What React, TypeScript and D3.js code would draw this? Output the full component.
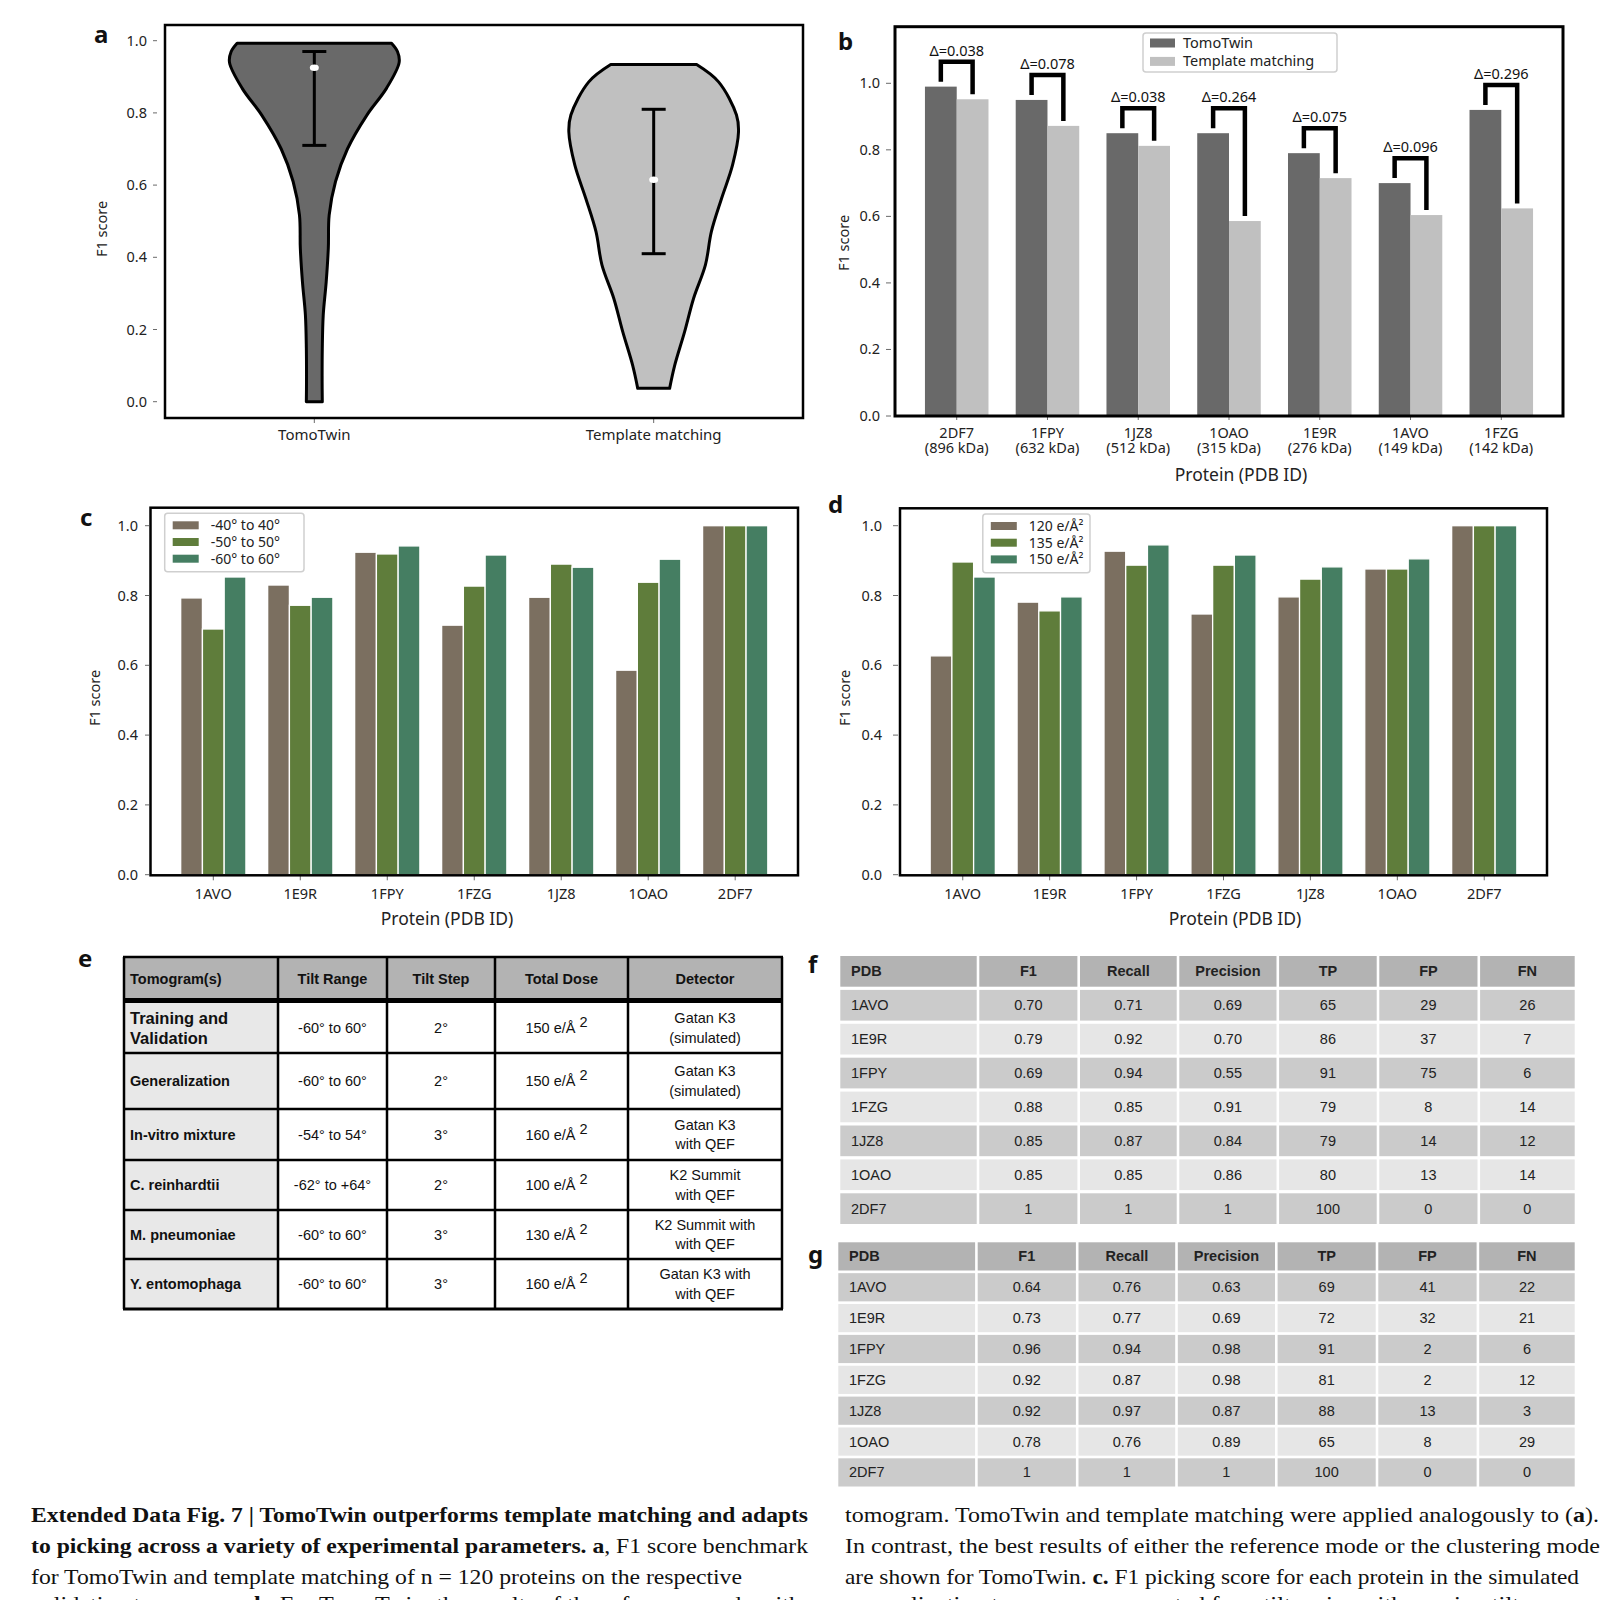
import React from 'react';
import * as d3 from 'd3';

// ---------- Panel a: violin data ----------
const violinGroups = ['TomoTwin', 'Template matching'];
const tomoTwinProfileValues = [0.0, 0.055, 0.148, 0.24, 0.332, 0.425, 0.517, 0.61, 0.70, 0.794, 0.868, 0.94, 0.97, 0.993];
const tomoTwinProfileWidths = [0.094, 0.092, 0.094, 0.105, 0.14, 0.165, 0.175, 0.25, 0.39, 0.62, 0.85, 1.0, 0.98, 0.91];
const templateProfileValues = [0.037, 0.10, 0.194, 0.286, 0.379, 0.471, 0.563, 0.656, 0.748, 0.794, 0.886, 0.934];
const templateProfileWidths = [0.188, 0.247, 0.365, 0.47, 0.61, 0.68, 0.80, 0.93, 1.0, 0.976, 0.765, 0.506];
const violinLow = [0.71, 0.41];
const violinHigh = [0.97, 0.81];
const violinMid = [0.925, 0.615];
const yTicks = [0, 0.2, 0.4, 0.6, 0.8, 1.0];

// ---------- Panel b ----------
const bProteins = ['2DF7', '1FPY', '1JZ8', '1OAO', '1E9R', '1AVO', '1FZG'];
const bMasses = ['(896 kDa)', '(632 kDa)', '(512 kDa)', '(315 kDa)', '(276 kDa)', '(149 kDa)', '(142 kDa)'];
const bTomoTwin = [0.99, 0.95, 0.85, 0.85, 0.79, 0.70, 0.92];
const bTemplate = [0.952, 0.872, 0.812, 0.586, 0.715, 0.604, 0.624];
const bDeltas = ['Δ=0.038', 'Δ=0.078', 'Δ=0.038', 'Δ=0.264', 'Δ=0.075', 'Δ=0.096', 'Δ=0.296'];
const bLegend = ['TomoTwin', 'Template matching'];

// ---------- Panels c, d ----------
const cdProteins = ['1AVO', '1E9R', '1FPY', '1FZG', '1JZ8', '1OAO', '2DF7'];
const cTilt40 = [0.793, 0.830, 0.924, 0.715, 0.795, 0.586, 1.0];
const cTilt50 = [0.704, 0.772, 0.919, 0.827, 0.890, 0.838, 1.0];
const cTilt60 = [0.853, 0.795, 0.942, 0.916, 0.881, 0.904, 1.0];
const cLegend = ['-40° to 40°', '-50° to 50°', '-60° to 60°'];
const dDose120 = [0.627, 0.781, 0.927, 0.747, 0.796, 0.876, 1.0];
const dDose135 = [0.896, 0.756, 0.887, 0.887, 0.847, 0.876, 1.0];
const dDose150 = [0.853, 0.796, 0.945, 0.916, 0.882, 0.905, 1.0];
const dLegend = ['120 e/Å²', '135 e/Å²', '150 e/Å²'];
const seriesColors = ['#7b6f60', '#5f7d3b', '#457e62'];

// ---------- Table e ----------
const eHeaders = ['Tomogram(s)', 'Tilt Range', 'Tilt Step', 'Total Dose', 'Detector'];
const eTomograms = [['Training and', 'Validation'], ['Generalization'], ['In-vitro mixture'], ['C. reinhardtii'], ['M. pneumoniae'], ['Y. entomophaga']];
const eTiltRange = ['-60° to 60°', '-60° to 60°', '-54° to 54°', '-62° to +64°', '-60° to 60°', '-60° to 60°'];
const eTiltStep = ['2°', '2°', '3°', '2°', '3°', '3°'];
const eDose = ['150 e/Å', '150 e/Å', '160 e/Å', '100 e/Å', '130 e/Å', '160 e/Å'];
const eDetector = [['Gatan K3', '(simulated)'], ['Gatan K3', '(simulated)'], ['Gatan K3', 'with QEF'], ['K2 Summit', 'with QEF'], ['K2 Summit with', 'with QEF'], ['Gatan K3 with', 'with QEF']];

// ---------- Tables f, g ----------
const fgHeaders = ['PDB', 'F1', 'Recall', 'Precision', 'TP', 'FP', 'FN'];
const fgPdb = ['1AVO', '1E9R', '1FPY', '1FZG', '1JZ8', '1OAO', '2DF7'];
const fF1 = ['0.70', '0.79', '0.69', '0.88', '0.85', '0.85', '1'];
const fRecall = ['0.71', '0.92', '0.94', '0.85', '0.87', '0.85', '1'];
const fPrecision = ['0.69', '0.70', '0.55', '0.91', '0.84', '0.86', '1'];
const fTP = ['65', '86', '91', '79', '79', '80', '100'];
const fFP = ['29', '37', '75', '8', '14', '13', '0'];
const fFN = ['26', '7', '6', '14', '12', '14', '0'];
const gF1 = ['0.64', '0.73', '0.96', '0.92', '0.92', '0.78', '1'];
const gRecall = ['0.76', '0.77', '0.94', '0.87', '0.97', '0.76', '1'];
const gPrecision = ['0.63', '0.69', '0.98', '0.98', '0.87', '0.89', '1'];
const gTP = ['69', '72', '91', '81', '88', '65', '100'];
const gFP = ['41', '32', '2', '2', '13', '8', '0'];
const gFN = ['22', '21', '6', '12', '3', '29', '0'];

const SANS = '"Noto Sans", "Open Sans", sans-serif';
const TABLE = '"Liberation Sans", Arial, sans-serif';
const SERIF = '"Liberation Serif", serif';

function PanelLabel({ x, y, t }: { x: number; y: number; t: string }) {
  return <text x={x} y={y} fontFamily={SANS} fontWeight={700} fontSize={24} fill="#111">{t}</text>;
}

function YAxis({ y, xLabelRight, tickX1, tickX2 }: { y: d3.ScaleLinear<number, number>; xLabelRight: number; tickX1: number; tickX2: number }) {
  return (
    <g>
      {yTicks.map((t) => (
        <g key={t}>
          <line x1={tickX1} x2={tickX2} y1={y(t)} y2={y(t)} stroke="#444" strokeWidth={0.8} />
          <text x={xLabelRight} y={y(t) + 5} textAnchor="end" fontFamily={SANS} fontSize={14.5} fill="#222">{d3.format('.1f')(t)}</text>
        </g>
      ))}
    </g>
  );
}

function PanelA() {
  const x = d3.scaleLinear().domain([-0.44, 1.44]).range([165, 803]);
  const y = d3.scaleLinear().domain([0, 1]).range([401.7, 40.7]);
  const maxHW = (x(0.25) - x(0));
  const profiles = [
    tomoTwinProfileValues.map((v, i) => [v, tomoTwinProfileWidths[i]] as [number, number]),
    templateProfileValues.map((v, i) => [v, templateProfileWidths[i]] as [number, number]),
  ];
  const fills = ['#696969', '#c0c0c0'];
  return (
    <g>
      <PanelLabel x={94} y={43} t="a" />
      {profiles.map((p, gi) => {
        const cx = x(gi);
        const area = d3.area<[number, number]>()
          .y((d) => y(d[0]))
          .x0((d) => cx - d[1] * maxHW)
          .x1((d) => cx + d[1] * maxHW)
          .curve(d3.curveCatmullRom.alpha(0.5));
        return <path key={gi} d={area(p) || ''} fill={fills[gi]} stroke="#000" strokeWidth={3} strokeLinejoin="round" />;
      })}
      {violinGroups.map((g, gi) => {
        const cx = x(gi);
        return (
          <g key={g}>
            <line x1={cx} x2={cx} y1={y(violinLow[gi])} y2={y(violinHigh[gi])} stroke="#000" strokeWidth={3} />
            <line x1={cx - 12} x2={cx + 12} y1={y(violinLow[gi])} y2={y(violinLow[gi])} stroke="#000" strokeWidth={3} />
            <line x1={cx - 12} x2={cx + 12} y1={y(violinHigh[gi])} y2={y(violinHigh[gi])} stroke="#000" strokeWidth={3} />
            <ellipse cx={cx} cy={y(violinMid[gi])} rx={4.5} ry={3.2} fill="#fff" />
            <line x1={cx} x2={cx} y1={419} y2={423} stroke="#444" strokeWidth={0.8} />
            <text x={cx} y={440} textAnchor="middle" fontFamily={SANS} fontSize={15} fill="#222">{g}</text>
          </g>
        );
      })}
      <rect x={165} y={25} width={638} height={393} fill="none" stroke="#000" strokeWidth={2.5} />
      <YAxis y={y} xLabelRight={147} tickX1={153} tickX2={157} />
      <text transform="translate(107,229) rotate(-90)" textAnchor="middle" fontFamily={SANS} fontSize={14.5} fill="#222">F1 score</text>
    </g>
  );
}

function PanelB() {
  const x = d3.scaleLinear().domain([-0.68, 6.68]).range([895, 1563]);
  const y = d3.scaleLinear().domain([0, 1]).range([416, 83.3]);
  const bw = 0.35;
  return (
    <g>
      <PanelLabel x={838} y={50} t="b" />
      {bProteins.map((p, i) => {
        const xL = x(i - bw / 2);
        const xR = x(i + bw / 2);
        const top = y(bTomoTwin[i] + 0.075);
        return (
          <g key={p}>
            <rect x={x(i - bw)} y={y(bTomoTwin[i])} width={x(i) - x(i - bw)} height={y(0) - y(bTomoTwin[i])} fill="#696969" />
            <rect x={x(i)} y={y(bTemplate[i])} width={x(i + bw) - x(i)} height={y(0) - y(bTemplate[i])} fill="#c0c0c0" />
            <path d={`M${xL},${y(bTomoTwin[i] + 0.015)} V${top} H${xR} V${y(bTemplate[i] + 0.015)}`} fill="none" stroke="#000" strokeWidth={4.5} />
            <text x={(xL + xR) / 2} y={top - 6} textAnchor="middle" fontFamily={SANS} fontSize={14.5} fill="#111">{bDeltas[i]}</text>
            <line x1={x(i)} x2={x(i)} y1={416} y2={420} stroke="#444" strokeWidth={0.8} />
            <text x={x(i)} y={438} textAnchor="middle" fontFamily={SANS} fontSize={14.5} fill="#222">{p}</text>
            <text x={x(i)} y={453} textAnchor="middle" fontFamily={SANS} fontSize={14.5} fill="#222">{bMasses[i]}</text>
          </g>
        );
      })}
      <rect x={895} y={26.7} width={668} height={389.3} fill="none" stroke="#000" strokeWidth={3} />
      <YAxis y={y} xLabelRight={880} tickX1={886} tickX2={891} />
      <text transform="translate(849,243) rotate(-90)" textAnchor="middle" fontFamily={SANS} fontSize={14.5} fill="#222">F1 score</text>
      <text x={1241} y={481} textAnchor="middle" fontFamily={SANS} fontSize={17.5} fill="#222">Protein (PDB ID)</text>
      <rect x={1143} y={33} width={194} height={39} rx={3} fill="#fff" fillOpacity={0.85} stroke="#cfcfcf" strokeWidth={1.5} />
      {bLegend.map((l, i) => (
        <g key={l}>
          <rect x={1150} y={38.5 + i * 18.4} width={25} height={9} fill={i === 0 ? '#696969' : '#c0c0c0'} />
          <text x={1183} y={48 + i * 18.4} fontFamily={SANS} fontSize={14.5} fill="#222">{l}</text>
        </g>
      ))}
    </g>
  );
}

function GroupedPanel({ label, lx, ly, left, right, top, series, legend, legendBox, yLabelX, tickLabelRight, tickX1, xTitleX }: any) {
  const x = d3.scaleLinear().domain([-0.722, 6.722]).range([left, right]);
  const y = d3.scaleLinear().domain([0, 1]).range([874.7, 525.7]);
  const bw = 0.25;
  const bottom = 875.3;
  return (
    <g>
      <PanelLabel x={lx} y={ly} t={label} />
      {cdProteins.map((p, i) => (
        <g key={p}>
          {series.map((s: number[], k: number) => {
            const c = i + (k - 1) * bw;
            return <rect key={k} x={x(c - bw / 2)} y={y(s[i])} width={x(c + bw / 2) - x(c - bw / 2)} height={y(0) - y(s[i])} fill={seriesColors[k]} stroke="#fff" strokeWidth={1.3} />;
          })}
          <line x1={x(i)} x2={x(i)} y1={bottom} y2={bottom + 5} stroke="#444" strokeWidth={0.8} />
          <text x={x(i)} y={899} textAnchor="middle" fontFamily={SANS} fontSize={14.5} fill="#222">{p}</text>
        </g>
      ))}
      <rect x={left} y={top} width={right - left} height={bottom - top} fill="none" stroke="#000" strokeWidth={2.5} />
      <YAxis y={y} xLabelRight={tickLabelRight} tickX1={tickX1} tickX2={tickX1 + 5} />
      <text transform={`translate(${yLabelX},698) rotate(-90)`} textAnchor="middle" fontFamily={SANS} fontSize={14.5} fill="#222">F1 score</text>
      <text x={xTitleX} y={925} textAnchor="middle" fontFamily={SANS} fontSize={17.5} fill="#222">Protein (PDB ID)</text>
      <rect x={legendBox[0]} y={legendBox[1]} width={legendBox[2]} height={legendBox[3]} rx={3} fill="#fff" fillOpacity={0.85} stroke="#cfcfcf" strokeWidth={1.5} />
      {legend.map((l: string, k: number) => (
        <g key={l}>
          <rect x={legendBox[0] + 8} y={legendBox[1] + 8 + k * 16.7} width={26} height={8} fill={seriesColors[k]} />
          <text x={legendBox[0] + 46} y={legendBox[1] + 17 + k * 16.7} fontFamily={SANS} fontSize={14} fill="#222">{l}</text>
        </g>
      ))}
    </g>
  );
}

function TableE() {
  const cols = [124, 278, 387, 495, 628, 782];
  const rows = [1003, 1053, 1109, 1160, 1210, 1259, 1309];
  const headTop = 957;
  const headBottom = 998;
  const cells = [eTiltRange, eTiltStep, eDose, eDetector];
  return (
    <g fontFamily={TABLE}>
      <PanelLabel x={78} y={967} t="e" />
      <rect x={cols[0]} y={headTop} width={cols[5] - cols[0]} height={headBottom - headTop} fill="#b3b3b3" />
      <rect x={cols[0]} y={rows[0]} width={cols[1] - cols[0]} height={rows[6] - rows[0]} fill="#e8e8e8" />
      {eHeaders.map((h, c) => (
        <text key={h} x={c === 0 ? cols[0] + 6 : (cols[c] + cols[c + 1]) / 2} y={984} textAnchor={c === 0 ? 'start' : 'middle'} fontWeight={700} fontSize={14.5} fill="#111">{h}</text>
      ))}
      {eTomograms.map((lines, r) => {
        const cy = (rows[r] + rows[r + 1]) / 2;
        const big = lines.length > 1;
        return (
          <g key={r}>
            {lines.map((l, li) => (
              <text key={li} x={cols[0] + 6} y={cy + (li - (lines.length - 1) / 2) * 19.5 + (big ? 6 : 5)} fontWeight={700} fontSize={big ? 16.5 : 14.5} fill="#111">{l}</text>
            ))}
            {cells.map((col, c) => {
              const cx = (cols[c + 1] + cols[c + 2]) / 2;
              const v = col[r];
              if (Array.isArray(v)) {
                return v.map((l, li) => (
                  <text key={`${c}-${li}`} x={cx} y={cy + (li - 0.5) * 19.5 + 5} textAnchor="middle" fontSize={14.5} fill="#111">{l}</text>
                ));
              }
              if (c === 2) {
                return (
                  <text key={c} x={cx - 5} y={cy + 5} textAnchor="middle" fontSize={14.5} fill="#111">{v}<tspan dx={4} dy={-6}>2</tspan></text>
                );
              }
              return <text key={c} x={cx} y={cy + 5} textAnchor="middle" fontSize={14.5} fill="#111">{v}</text>;
            })}
          </g>
        );
      })}
      {cols.map((cx, i) => (
        <line key={i} x1={cx} x2={cx} y1={headTop} y2={rows[6]} stroke="#000" strokeWidth={2.5} />
      ))}
      <line x1={cols[0] - 1} x2={cols[5] + 1} y1={headTop} y2={headTop} stroke="#000" strokeWidth={2.5} />
      <rect x={cols[0]} y={headBottom} width={cols[5] - cols[0]} height={rows[0] - headBottom} fill="#000" />
      {rows.slice(1).map((ry, i) => (
        <line key={i} x1={cols[0] - 1} x2={cols[5] + 1} y1={ry} y2={ry} stroke="#000" strokeWidth={i === 5 ? 3 : 2.5} />
      ))}
    </g>
  );
}

function StatsTable({ label, lx, ly, cols, headTop, pitch, cellH, data }: any) {
  const rowsAll = [fgHeaders, ...fgPdb.map((p, r) => [p, ...data.map((col: string[]) => col[r])])];
  return (
    <g fontFamily={TABLE}>
      <PanelLabel x={lx} y={ly} t={label} />
      {rowsAll.map((row: string[], r: number) => {
        const top = headTop + r * pitch;
        const fill = r === 0 ? '#b3b3b3' : r % 2 === 1 ? '#cbcbcb' : '#e6e6e6';
        return (
          <g key={r}>
            {row.map((v, c) => (
              <g key={c}>
                <rect x={cols[c] + 1.3} y={top} width={cols[c + 1] - cols[c] - 2.6} height={cellH} fill={fill} />
                <text x={c === 0 ? cols[0] + 12 : (cols[c] + cols[c + 1]) / 2} y={top + cellH / 2 + 5} textAnchor={c === 0 ? 'start' : 'middle'} fontWeight={r === 0 ? 700 : 400} fontSize={14.5} fill="#222">{v}</text>
              </g>
            ))}
          </g>
        );
      })}
    </g>
  );
}

function Caption() {
  return (
    <g fontFamily={SERIF} fontSize={22} fill="#111">
      <text x={31} y={1522} textLength={777} lengthAdjust="spacingAndGlyphs" fontWeight={700}>Extended Data Fig. 7 | TomoTwin outperforms template matching and adapts</text>
      <text x={31} y={1553} textLength={777} lengthAdjust="spacingAndGlyphs"><tspan fontWeight={700}>to picking across a variety of experimental parameters. a</tspan>, F1 score benchmark</text>
      <text x={31} y={1584} textLength={711} lengthAdjust="spacingAndGlyphs">for TomoTwin and template matching of n = 120 proteins on the respective</text>
      <text x={31} y={1611} textLength={770} lengthAdjust="spacingAndGlyphs">validation tomograms. <tspan fontWeight={700}>b</tspan>, For TomoTwin, the results of the reference mode with</text>
      <text x={845} y={1522} textLength={754} lengthAdjust="spacingAndGlyphs">tomogram. TomoTwin and template matching were applied analogously to (<tspan fontWeight={700}>a</tspan>).</text>
      <text x={845} y={1553} textLength={755} lengthAdjust="spacingAndGlyphs">In contrast, the best results of either the reference mode or the clustering mode</text>
      <text x={845} y={1584} textLength={734} lengthAdjust="spacingAndGlyphs">are shown for TomoTwin. <tspan fontWeight={700}>c.</tspan> F1 picking score for each protein in the simulated</text>
      <text x={845} y={1611} textLength={745} lengthAdjust="spacingAndGlyphs">generalization tomograms generated for a tilt series with varying tilt ranges</text>
    </g>
  );
}

export default function App() {
  return (
    <svg width={1610} height={1600} style={{ position: 'absolute', left: 0, top: 0, background: '#fff' }}>
      <rect width={1610} height={1600} fill="#fff" />
      <PanelA />
      <PanelB />
      <GroupedPanel label="c" lx={80} ly={526} left={150.5} right={798} top={507.7}
        series={[cTilt40, cTilt50, cTilt60]} legend={cLegend} legendBox={[164.7, 513.3, 139.3, 58.4]}
        yLabelX={100} tickLabelRight={138} tickX1={145} xTitleX={447} />
      <GroupedPanel label="d" lx={828} ly={513} left={900} right={1547} top={508.3}
        series={[dDose120, dDose135, dDose150]} legend={dLegend} legendBox={[982.8, 514, 107.2, 58.7]}
        yLabelX={850} tickLabelRight={882} tickX1={893} xTitleX={1235} />
      <TableE />
      <StatsTable label="f" lx={808} ly={973} cols={[839, 978, 1078.7, 1178, 1277.8, 1378, 1478.8, 1576]}
        headTop={956} pitch={33.9} cellH={30.7} data={[fF1, fRecall, fPrecision, fTP, fFP, fFN]} />
      <StatsTable label="g" lx={808} ly={1263} cols={[837, 976.4, 1077.2, 1176.5, 1276.3, 1377, 1477.9, 1576]}
        headTop={1242.3} pitch={30.86} cellH={28.2} data={[gF1, gRecall, gPrecision, gTP, gFP, gFN]} />
      <Caption />
    </svg>
  );
}
